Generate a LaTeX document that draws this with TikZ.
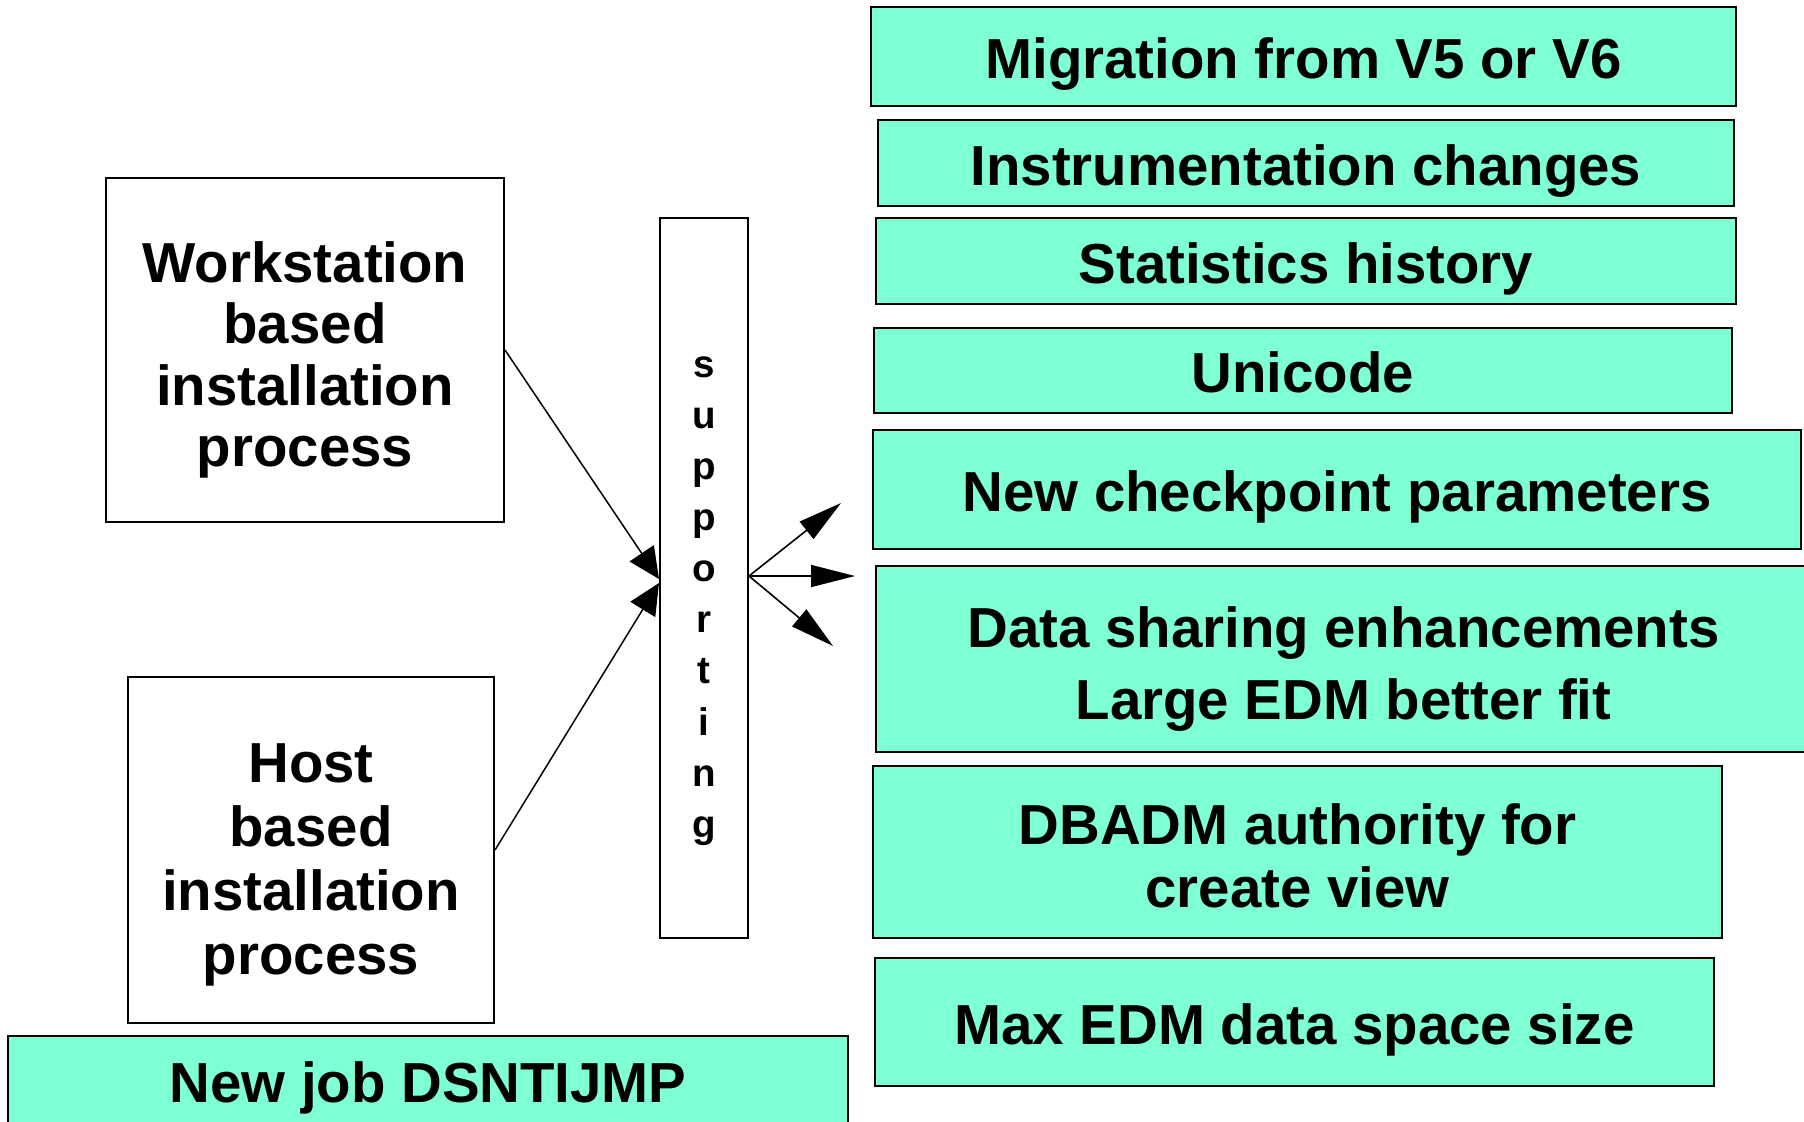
\documentclass[tikz,border=0pt]{standalone}
\usepackage{fontspec}
\setmainfont{Liberation Sans}
\usetikzlibrary{arrows.meta}
\definecolor{aquabox}{HTML}{7FFFD4}

\begin{document}
\begin{tikzpicture}[x=0.5pt, y=-0.5pt,
        plainbox/.style={draw, line width=1pt, inner sep=0pt, align=center,
            font=\fontsize{28.2}{31}\selectfont\bfseries},
        featbox/.style={plainbox, fill=aquabox},
        oneline/.style={text height=28pt, text depth=6pt},
        inarrow/.style={-{Triangle[length=15.5pt,width=14.5pt]}, line width=0.75pt},
        outarrow/.style={-{Triangle[length=22pt,width=11pt]}, line width=0.8pt}]
    \useasboundingbox (0,0) rectangle (1804,1121);
    \clip (0,0) rectangle (1804,1121);

    % what is new
    \node[featbox, oneline, minimum width=432.5pt, minimum height=49.5pt] (migr) at (1303.5,56.5) {Migration from V5 or V6};
    \node[featbox, oneline, minimum width=428pt, minimum height=43pt] (instr) at (1306,163) {Instrumentation changes};
    \node[featbox, oneline, minimum width=430pt, minimum height=43pt] (stats) at (1306,261) {Statistics history};
    \node[featbox, oneline, minimum width=428.75pt, minimum height=42.5pt] (unicode) at (1302.75,370.5) {Unicode};
    \node[featbox, oneline, minimum width=464pt, minimum height=59.5pt] (chkpt) at (1337,489.5) {New checkpoint parameters};
    \node[featbox, font=\fontsize{28.2}{36}\selectfont\bfseries, text height=66.5pt, text depth=6pt,
        minimum width=467.5pt, minimum height=93pt] (datashr) at (1343.5,659) {Data sharing enhancements\\Large EDM better fit};
    \node[featbox, font=\fontsize{28.2}{31.5}\selectfont\bfseries, text height=61pt, text depth=6pt,
        minimum width=424.5pt, minimum height=86pt] (dbadm) at (1297.5,852) {DBADM authority for\\create view};
    \node[featbox, oneline, minimum width=419.5pt, minimum height=64pt] (edmsize) at (1294.5,1022) {Max EDM data space size};
    \node[featbox, oneline, minimum width=420pt, minimum height=44pt] (newjob) at (428,1080) {New job DSNTIJMP};

    % installation paths
    \node[plainbox, font=\fontsize{28.2}{30.8}\selectfont\bfseries, text height=122.8pt, text depth=6pt,
        minimum width=199pt, minimum height=172pt] (work) at (305,350) {Workstation\\based\\installation\\process};
    \node[plainbox, font=\fontsize{28.2}{32}\selectfont\bfseries, text height=130pt, text depth=6pt,
        minimum width=183pt, minimum height=173pt] (host) at (311,850) {Host\\based\\installation\\process};

    \node[draw, line width=1pt, minimum width=44pt, minimum height=360pt] (supp) at (704,578) {};
    \node[inner sep=0pt, align=center, font=\fontsize{19.25}{25.55}\selectfont\bfseries] (suppword) at (704,601)
        {s\\u\\p\\p\\o\\r\\t\\i\\n\\g};

    \draw[inarrow] (work.east) -- ([yshift=-0.5pt]supp.west);
    \draw[inarrow] (host.east) -- ([yshift=-2.5pt]supp.west);

    \coordinate (fanup) at (841,503);
    \coordinate (fanmid) at (855,576);
    \coordinate (fandown) at (833,646);
    \draw[outarrow] ([yshift=1pt]supp.east) -- (fanup);
    \draw[outarrow] ([yshift=1pt]supp.east) -- (fanmid);
    \draw[outarrow] ([yshift=1pt]supp.east) -- (fandown);
\end{tikzpicture}
\end{document}
